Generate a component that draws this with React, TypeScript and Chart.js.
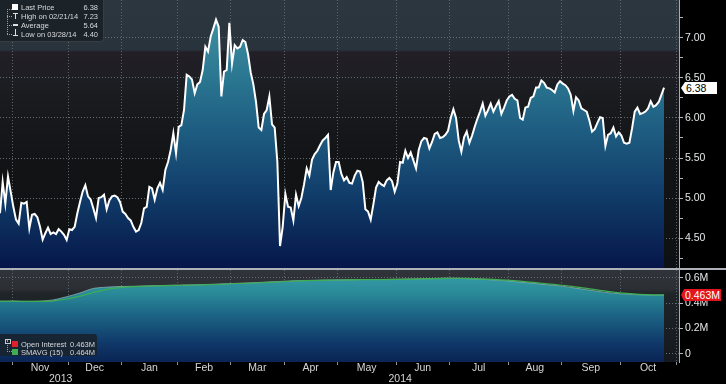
import React, { useEffect, useRef } from 'react';
import { Chart, registerables } from 'chart.js';
Chart.register(...registerables);

// Daily last price, one value per trading day (late Oct 2013 -> Oct 2014)
const priceValues = [
  4.81, 5.20, 4.93, 5.27, 5.08, 4.89, 4.73, 4.68, 4.94, 4.93,
  4.95, 4.62, 4.79, 4.80, 4.76, 4.64, 4.48, 4.56, 4.63, 4.55,
  4.57, 4.55, 4.61, 4.58, 4.54, 4.475, 4.61, 4.60, 4.64, 4.81,
  4.95, 5.08, 5.16, 5.02, 4.98, 4.87, 4.75, 5.00, 5.01, 5.04,
  4.86, 4.97, 5.02, 5.03, 5.01, 4.95, 4.83, 4.80, 4.75, 4.72,
  4.64, 4.58, 4.60, 4.69, 4.87, 4.89, 5.14, 5.12, 4.98, 5.12,
  5.19, 5.10, 5.35, 5.45, 5.60,
  5.81, 5.56, 5.89, 5.91, 6.10, 6.54, 6.52, 6.48, 6.31, 6.42,
  6.45, 6.60, 6.89, 6.83, 7.02, 7.12, 7.23, 7.14, 6.27, 6.58,
  6.60, 7.19, 6.68, 6.91, 6.87, 6.89, 6.975, 6.95, 6.80, 6.57,
  6.42, 6.20, 5.88, 5.85, 6.05, 6.10, 6.27, 5.92, 5.88, 5.45,
  4.40, 4.64, 5.05, 4.89, 4.88, 4.72, 5.04, 4.90, 5.00, 5.17,
  5.37, 5.28, 5.48, 5.55, 5.59, 5.66, 5.72, 5.75, 5.79, 5.10,
  5.32, 5.45, 5.45, 5.30, 5.22, 5.26, 5.19, 5.18, 5.28, 5.34,
  5.33, 5.20, 4.86, 4.83, 4.73, 4.92, 5.13, 5.20, 5.17, 5.15,
  5.22, 5.25, 5.21, 5.08, 5.18, 5.45, 5.44, 5.59, 5.50, 5.57,
  5.47, 5.37, 5.60, 5.71, 5.75, 5.74, 5.62, 5.70, 5.80, 5.82,
  5.75, 5.76, 5.79, 5.84, 6.00, 6.11, 6.00, 5.72, 5.58, 5.76,
  5.83, 5.69, 5.78, 5.89, 5.99, 6.08, 6.18, 6.03, 6.10, 6.18,
  6.08, 6.15, 6.21, 6.05, 6.13, 6.22, 6.27, 6.29, 6.24, 6.22,
  6.00, 5.98, 6.13, 6.14, 6.25, 6.27, 6.38, 6.38, 6.47, 6.44,
  6.38, 6.37, 6.35, 6.32, 6.42, 6.46, 6.43, 6.41, 6.37, 6.29,
  6.09, 6.26, 6.22, 6.12, 6.10, 6.08, 5.97, 5.83, 5.86, 5.94,
  6.01, 6.00, 5.65, 5.79, 5.81, 5.88, 5.77, 5.82, 5.78, 5.69,
  5.68, 5.69, 5.87, 6.08, 6.13, 6.05, 6.06, 6.08, 6.12, 6.21,
  6.14, 6.16, 6.20, 6.29, 6.38,
];

// Open interest (millions), sampled every 5 trading days, last one at final day
const oiValues = [
  0.415, 0.415, 0.413, 0.415, 0.425, 0.45, 0.48, 0.515, 0.525, 0.53,
  0.532, 0.535, 0.538, 0.54, 0.542, 0.545, 0.548, 0.552, 0.556, 0.56,
  0.565, 0.57, 0.575, 0.578, 0.58, 0.582, 0.583, 0.585, 0.585, 0.586,
  0.588, 0.59, 0.592, 0.595, 0.596, 0.592, 0.588, 0.582, 0.575, 0.565,
  0.555, 0.545, 0.535, 0.52, 0.505, 0.49, 0.478, 0.47, 0.465, 0.463,
  0.463,
];
const smavgValues = [
  0.414, 0.415, 0.414, 0.414, 0.418, 0.432, 0.455, 0.483, 0.508, 0.522,
  0.529, 0.533, 0.536, 0.539, 0.541, 0.543, 0.546, 0.55, 0.554, 0.558,
  0.562, 0.567, 0.572, 0.576, 0.579, 0.581, 0.582, 0.584, 0.585, 0.585,
  0.587, 0.589, 0.591, 0.593, 0.595, 0.594, 0.591, 0.586, 0.58, 0.572,
  0.562, 0.552, 0.542, 0.53, 0.515, 0.5, 0.486, 0.476, 0.469, 0.465,
  0.464,
];
const OI_STEP = 5;

const monthNames = ['Nov', 'Dec', 'Jan', 'Feb', 'Mar', 'Apr', 'May', 'Jun', 'Jul', 'Aug', 'Sep', 'Oct'];
// trading-day index where each month begins (last entry: start of Nov 2014)
const monthStarts = [4.5, 25.5, 45.5, 66.5, 86.5, 106.5, 126.5, 148.5, 168.5, 190.5, 210.5, 232.5, 253.5];
const yearNames = ['2013', '2014'];
const yearStartIndex = 45.5;

const priceMajorTicks = [4.5, 5.0, 5.5, 6.0, 6.5, 7.0];
const priceMinorTicks = [4.25, 4.75, 5.25, 5.75, 6.25, 6.75, 7.25];
const oiMajorTicks = [0, 0.2, 0.4, 0.6];
const oiMinorTicks = [0.1, 0.3, 0.5];

const legendPrice = [
  ['Last Price', '6.38'],
  ['High on 02/21/14', '7.23'],
  ['Average', '5.64'],
  ['Low on 03/28/14', '4.40'],
];
const legendOI = [
  ['Open Interest', '0.463M'],
  ['SMAVG (15)', '0.464M'],
];
const lastPriceLabel = '6.38';
const lastOILabel = '0.463M';

const X_MIN = 0;
const X_MAX = 254.6;
const FONT = 'Liberation Sans, Arial, Helvetica, sans-serif';

function zeroPad(s: any) {
  s.paddingLeft = 0; s.paddingRight = 0; s.paddingTop = 0; s.paddingBottom = 0;
}

const topBgPlugin = {
  id: 'topBg',
  beforeDraw(chart: any) {
    const { ctx, chartArea: a } = chart;
    if (!a) return;
    const g = ctx.createLinearGradient(0, a.top, 0, a.bottom);
    g.addColorStop(0, '#2c3740');
    g.addColorStop(0.185, '#29333c');
    g.addColorStop(0.195, '#221f26');
    g.addColorStop(0.3, '#1d1e23');
    g.addColorStop(0.45, '#17181b');
    g.addColorStop(0.62, '#121315');
    g.addColorStop(1, '#0e1113');
    ctx.save();
    ctx.fillStyle = g;
    ctx.fillRect(a.left, a.top, a.right - a.left, a.bottom - a.top);
    ctx.restore();
  },
};

const botBgPlugin = {
  id: 'botBg',
  beforeDraw(chart: any) {
    const { ctx, chartArea: a } = chart;
    if (!a) return;
    const g = ctx.createLinearGradient(0, a.top, 0, a.bottom);
    g.addColorStop(0, '#30343a');
    g.addColorStop(0.2, '#2c3035');
    g.addColorStop(0.26, '#1f2429');
    g.addColorStop(1, '#15191d');
    ctx.save();
    ctx.fillStyle = g;
    ctx.fillRect(a.left, a.top, a.right - a.left, a.bottom - a.top);
    ctx.restore();
  },
};

function priceFill(context: any) {
  const { chart } = context;
  const a = chart.chartArea;
  if (!a) return 'rgba(0,0,0,0)';
  const g = chart.ctx.createLinearGradient(0, a.top, 0, a.bottom);
  g.addColorStop(0, '#4798a8');
  g.addColorStop(0.12, '#3a8a9e');
  g.addColorStop(0.3, '#2a7590');
  g.addColorStop(0.5, '#1d5b80');
  g.addColorStop(0.7, '#12406c');
  g.addColorStop(0.86, '#0b2a5a');
  g.addColorStop(1, '#06164a');
  return g;
}

function oiFill(context: any) {
  const { chart } = context;
  const a = chart.chartArea;
  if (!a) return 'rgba(0,0,0,0)';
  const g = chart.ctx.createLinearGradient(0, a.top, 0, a.bottom);
  g.addColorStop(0, '#38a0aa');
  g.addColorStop(0.25, '#2a8a98');
  g.addColorStop(0.5, '#1b6284');
  g.addColorStop(0.8, '#0f3868');
  g.addColorStop(1, '#0a2455');
  return g;
}

const gridDotted = { display: false, dash: [1, 2] };

export default function App() {
  const topRef = useRef<HTMLCanvasElement>(null);
  const botRef = useRef<HTMLCanvasElement>(null);
  const priceTagRef = useRef<HTMLDivElement>(null);
  const oiTagRef = useRef<HTMLDivElement>(null);

  useEffect(() => {
    const monthTicks = monthStarts.map((v) => ({ value: v }));
    const monthMids = monthNames.map((_, i) => ({ value: (monthStarts[i] + monthStarts[i + 1]) / 2 }));
    const yearMids = [
      { value: (X_MIN + yearStartIndex) / 2 },
      { value: (yearStartIndex + X_MAX) / 2 },
    ];

    const top = new Chart(topRef.current as HTMLCanvasElement, {
      type: 'line',
      data: {
        datasets: [
          {
            data: priceValues.map((v, i) => ({ x: i, y: v })),
            borderColor: '#ffffff',
            borderWidth: 2,
            pointRadius: 0,
            tension: 0,
            fill: 'start',
            backgroundColor: priceFill,
          },
        ],
      },
      options: {
        animation: false,
        responsive: false,
        devicePixelRatio: 1,
        layout: { padding: 0 },
        plugins: { legend: { display: false }, tooltip: { enabled: false } },
        scales: {
          x: {
            type: 'linear',
            min: X_MIN,
            max: X_MAX,
            afterBuildTicks: (s: any) => { s.ticks = monthTicks.map((t) => ({ ...t })); },
            ticks: { display: false },
            grid: { color: '#5e656c', lineWidth: 1, drawTicks: false },
            border: gridDotted,
            afterFit: (s: any) => { s.height = 0; zeroPad(s); },
          },
          y: {
            type: 'linear',
            position: 'right',
            min: 4.125,
            max: 7.475,
            afterBuildTicks: (s: any) => {
              s.ticks = [...priceMajorTicks, ...priceMinorTicks].sort((a, b) => a - b).map((v) => ({ value: v }));
            },
            ticks: {
              color: '#e4e6e8',
              font: { family: FONT, size: 10.5 },
              padding: 2,
              callback: (v: any) => (priceMajorTicks.includes(Number(v)) ? Number(v).toFixed(2) : ''),
            },
            grid: {
              color: (c: any) => (c.tick && priceMajorTicks.includes(c.tick.value) ? '#666c73' : 'rgba(0,0,0,0)'),
              tickColor: '#b4b8bd',
              tickLength: 4,
              lineWidth: 1,
            },
            border: { display: true, color: '#a7abb0', width: 1, dash: [1, 2] },
            afterFit: (s: any) => { s.width = 47; zeroPad(s); },
          },
        },
      },
      plugins: [topBgPlugin],
    } as any);

    const oiPoints = oiValues.map((v, k) => ({ x: Math.min(k * OI_STEP, priceValues.length - 1), y: v }));
    const smPoints = smavgValues.map((v, k) => ({ x: Math.min(k * OI_STEP, priceValues.length - 1), y: v }));

    const bot = new Chart(botRef.current as HTMLCanvasElement, {
      type: 'line',
      data: {
        datasets: [
          {
            data: smPoints,
            borderColor: '#3fae52',
            borderWidth: 1.2,
            pointRadius: 0,
            tension: 0.3,
            fill: false,
            order: 0,
          },
          {
            data: oiPoints,
            borderColor: 'rgba(150,185,185,0.7)',
            borderWidth: 1,
            pointRadius: 0,
            tension: 0.3,
            fill: 'start',
            backgroundColor: oiFill,
            order: 1,
          },
        ],
      },
      options: {
        animation: false,
        responsive: false,
        devicePixelRatio: 1,
        layout: { padding: 0 },
        plugins: { legend: { display: false }, tooltip: { enabled: false } },
        scales: {
          x: {
            type: 'linear',
            position: 'bottom',
            weight: 0,
            min: X_MIN,
            max: X_MAX,
            afterBuildTicks: (s: any) => { s.ticks = monthTicks.map((t) => ({ ...t })); },
            ticks: { display: false },
            grid: { color: '#5e656c', lineWidth: 1, drawTicks: true, tickLength: 3, tickColor: '#8b9197' },
            border: gridDotted,
            afterFit: (s: any) => { s.height = 0; zeroPad(s); },
          },
          xm: {
            type: 'linear',
            position: 'bottom',
            weight: 1,
            min: X_MIN,
            max: X_MAX,
            afterBuildTicks: (s: any) => { s.ticks = monthMids.map((t) => ({ ...t })); },
            ticks: {
              color: '#d4d6d8',
              font: { family: FONT, size: 10.5 },
              padding: 0,
              autoSkip: false,
              maxRotation: 0,
              callback: (_v: any, i: number) => monthNames[i],
            },
            grid: { display: false, drawTicks: false },
            border: { display: false },
            afterFit: (s: any) => { s.height = 11; zeroPad(s); },
          },
          xy: {
            type: 'linear',
            position: 'bottom',
            weight: 2,
            min: X_MIN,
            max: X_MAX,
            afterBuildTicks: (s: any) => { s.ticks = yearMids.map((t) => ({ ...t })); },
            ticks: {
              color: '#d4d6d8',
              font: { family: FONT, size: 10.5 },
              padding: 0,
              autoSkip: false,
              maxRotation: 0,
              callback: (_v: any, i: number) => yearNames[i],
            },
            grid: { display: false, drawTicks: false },
            border: { display: false },
            afterFit: (s: any) => { s.height = 11; zeroPad(s); },
          },
          y: {
            type: 'linear',
            position: 'right',
            min: -0.063,
            max: 0.66,
            afterBuildTicks: (s: any) => {
              s.ticks = [...oiMajorTicks, ...oiMinorTicks].sort((a, b) => a - b).map((v) => ({ value: v }));
            },
            ticks: {
              color: '#e4e6e8',
              font: { family: FONT, size: 10.5 },
              padding: 2,
              callback: (v: any) => {
                const n = Number(v);
                if (!oiMajorTicks.includes(n)) return '';
                return n === 0 ? '0' : `${n.toFixed(1)}M`;
              },
            },
            grid: {
              color: (c: any) => (c.tick && oiMajorTicks.includes(c.tick.value) ? '#666c73' : 'rgba(0,0,0,0)'),
              tickColor: '#b4b8bd',
              tickLength: 4,
              lineWidth: 1,
            },
            border: { display: true, color: '#a7abb0', width: 1, dash: [1, 2] },
            afterFit: (s: any) => { s.width = 47; zeroPad(s); },
          },
        },
      },
      plugins: [botBgPlugin],
    } as any);

    const py = top.scales.y.getPixelForValue(priceValues[priceValues.length - 1]);
    if (priceTagRef.current) priceTagRef.current.style.top = `${py - 6}px`;
    const oy = bot.scales.y.getPixelForValue(oiValues[oiValues.length - 1]);
    if (oiTagRef.current) oiTagRef.current.style.top = `${270 + oy - 6}px`;

    return () => {
      top.destroy();
      bot.destroy();
    };
  }, []);

  const legendText: React.CSSProperties = {
    position: 'absolute',
    fontFamily: FONT,
    fontSize: 7.5,
    lineHeight: '9px',
    color: '#d6d9dc',
    whiteSpace: 'nowrap',
  };

  return (
    <div
      style={{
        position: 'fixed',
        left: 0,
        top: 0,
        width: 726,
        height: 384,
        background: '#000000',
        overflow: 'hidden',
      }}
    >
      <canvas
        ref={topRef}
        width={726}
        height={268}
        style={{ position: 'absolute', left: 0, top: 0, width: 726, height: 268 }}
      />
      <div style={{ position: 'absolute', left: 0, top: 268, width: 726, height: 2, background: '#aeb2b8' }} />
      <canvas
        ref={botRef}
        width={726}
        height={114}
        style={{ position: 'absolute', left: 0, top: 270, width: 726, height: 114 }}
      />

      {/* price legend */}
      <div
        style={{
          position: 'absolute',
          left: 0,
          top: 0,
          width: 103,
          height: 41,
          background: 'rgba(28,34,40,0.96)',
          border: '1px solid #363d44',
          borderTop: 'none',
          borderLeft: 'none',
          borderBottomRightRadius: 4,
        }}
      >
        <div style={{ position: 'absolute', left: 7, top: 9, width: 0, height: 25, borderLeft: '1px dotted #9aa0a6' }} />
        {[9, 16, 25, 34].map((y, i) => (
          <div key={i} style={{ position: 'absolute', left: 7, top: y, width: 5, height: 0, borderTop: '1px dotted #9aa0a6' }} />
        ))}
        <div style={{ position: 'absolute', left: 12, top: 4, width: 6, height: 6, background: '#ffffff' }} />
        <div style={{ position: 'absolute', left: 13, top: 13, width: 5, height: 1, background: '#e0e0e0' }} />
        <div style={{ position: 'absolute', left: 15, top: 13, width: 1, height: 6, background: '#e0e0e0' }} />
        <div style={{ position: 'absolute', left: 13, top: 24, width: 5, height: 2, background: '#e0e0e0' }} />
        <div style={{ position: 'absolute', left: 15, top: 29, width: 1, height: 6, background: '#e0e0e0' }} />
        <div style={{ position: 'absolute', left: 13, top: 35, width: 5, height: 1, background: '#e0e0e0' }} />
        {legendPrice.map(([name, val], i) => (
          <React.Fragment key={name}>
            <div style={{ ...legendText, left: 21, top: 3 + i * 9 }}>{name}</div>
            <div style={{ ...legendText, right: 5, top: 3 + i * 9, textAlign: 'right' }}>{val}</div>
          </React.Fragment>
        ))}
      </div>

      {/* open interest legend */}
      <div
        style={{
          position: 'absolute',
          left: 0,
          top: 334,
          width: 97,
          height: 22,
          background: 'rgba(24,36,48,0.95)',
          borderTopRightRadius: 3,
          borderBottomRightRadius: 3,
        }}
      >
        <div style={{ position: 'absolute', left: 7, top: 6, width: 0, height: 12, borderLeft: '1px dotted #9aa0a6' }} />
        <div style={{ position: 'absolute', left: 7, top: 17, width: 5, height: 0, borderTop: '1px dotted #9aa0a6' }} />
        <div style={{ position: 'absolute', left: 5, top: 5, width: 4, height: 3, border: '1px solid #c8ccd0' }} />
        <div style={{ position: 'absolute', left: 12, top: 7, width: 6, height: 6, background: '#e0202a' }} />
        <div style={{ position: 'absolute', left: 12, top: 15, width: 6, height: 6, background: '#3fae52' }} />
        {legendOI.map(([name, val], i) => (
          <React.Fragment key={name}>
            <div style={{ ...legendText, left: 21, top: 6 + i * 8 }}>{name}</div>
            <div style={{ ...legendText, left: 70, top: 6 + i * 8 }}>{val}</div>
          </React.Fragment>
        ))}
      </div>

      {/* last price tag */}
      <div ref={priceTagRef} style={{ position: 'absolute', left: 681, top: 82, height: 12, display: 'flex' }}>
        <div
          style={{
            width: 0,
            height: 0,
            borderTop: '6px solid transparent',
            borderBottom: '6px solid transparent',
            borderRight: '4px solid #ffffff',
          }}
        />
        <div
          style={{
            background: '#ffffff',
            color: '#000000',
            fontFamily: FONT,
            fontSize: 10.5,
            lineHeight: '12px',
            height: 12,
            width: 32,
            paddingLeft: 1,
            boxSizing: 'border-box',
          }}
        >
          {lastPriceLabel}
        </div>
      </div>

      {/* last open interest tag */}
      <div ref={oiTagRef} style={{ position: 'absolute', left: 681, top: 289, height: 12, display: 'flex' }}>
        <div
          style={{
            width: 0,
            height: 0,
            borderTop: '6px solid transparent',
            borderBottom: '6px solid transparent',
            borderRight: '3px solid #e3141c',
          }}
        />
        <div
          style={{
            background: '#e3141c',
            color: '#ffffff',
            fontFamily: FONT,
            fontSize: 10.5,
            lineHeight: '12px',
            height: 12,
            width: 37,
            paddingLeft: 1,
            boxSizing: 'border-box',
            whiteSpace: 'nowrap',
          }}
        >
          {lastOILabel}
        </div>
      </div>
    </div>
  );
}
